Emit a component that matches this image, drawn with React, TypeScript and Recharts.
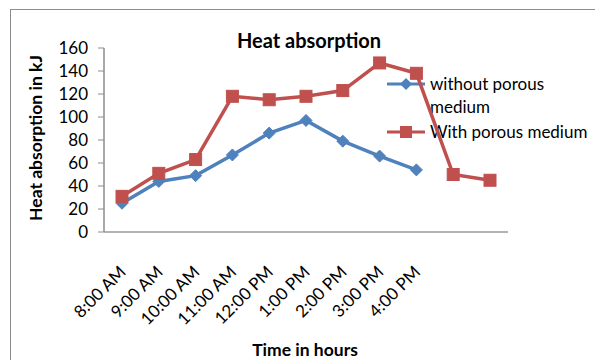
import React from "react";
import { LineChart, Line, XAxis, YAxis } from "recharts";

const categories = [
  "8:00 AM", "9:00 AM", "10:00 AM", "11:00 AM", "12:00 PM",
  "1:00 PM", "2:00 PM", "3:00 PM", "4:00 PM", "", " ",
];
const withoutPorous: (number | null)[] = [25, 44, 49, 67, 86, 97, 79, 66, 54, null, null];
const withPorous: number[] = [31, 51, 63, 118, 115, 118, 123, 147, 138, 50, 45];
const yTicks = [0, 20, 40, 60, 80, 100, 120, 140, 160];

const seriesNames = ["without porous", "medium", "With porous medium"];
const BLUE = "#4F81BD";
const RED = "#C0504D";
const FONT = "Lato, 'Open Sans', sans-serif";

const data = categories.map((c, i) => ({
  time: c,
  without: withoutPorous[i],
  with: withPorous[i],
}));

const Diamond = (props: any) => {
  const { cx, cy, value } = props;
  if (value == null || cx == null || cy == null) return null;
  const r = 6;
  return (
    <polygon
      points={`${cx},${cy - r} ${cx + r},${cy} ${cx},${cy + r} ${cx - r},${cy}`}
      fill={BLUE}
      stroke={BLUE}
      strokeWidth={1}
    />
  );
};

const Square = (props: any) => {
  const { cx, cy, value } = props;
  if (value == null || cx == null || cy == null) return null;
  const s = 12;
  return <rect x={cx - s / 2} y={cy - s / 2} width={s} height={s} fill={RED} stroke={RED} />;
};

const XTick = (props: any) => {
  const { x, y, payload } = props;
  return (
    <text
      transform={`translate(${x + 5},${y + 33}) rotate(-45)`}
      textAnchor="end"
      fontFamily={FONT}
      fontSize={17}
      fill="#000"
    >
      {payload.value}
    </text>
  );
};

export default function App() {
  return (
    <div
      style={{
        position: "absolute",
        left: 0,
        top: 0,
        width: 595,
        height: 360,
        overflow: "hidden",
        background: "#fff",
      }}
    >
      <div
        style={{
          position: "absolute",
          left: 10,
          top: 9,
          width: 640,
          height: 420,
          border: "1.5px solid #8c8c8c",
        }}
      />
      <div style={{ position: "absolute", left: 0, top: 0 }}>
        <LineChart
          width={595}
          height={360}
          data={data}
          margin={{ top: 48, right: 87, bottom: 0, left: 0 }}
        >
          <text
            x={309}
            y={48}
            textAnchor="middle"
            fontFamily={FONT}
            fontWeight="bold"
            fontSize={20}
            fill="#000"
          >
            Heat absorption
          </text>
          <text
            transform="translate(42,138) rotate(-90)"
            textAnchor="middle"
            fontFamily={FONT}
            fontWeight="bold"
            fontSize={17.5}
            fill="#000"
          >
            Heat absorption in kJ
          </text>
          <text
            x={305}
            y={356}
            textAnchor="middle"
            fontFamily={FONT}
            fontWeight="bold"
            fontSize={17.5}
            fill="#000"
          >
            Time in hours
          </text>
          <g transform="translate(387,76)">
            <line x1={0} y1={8} x2={38} y2={8} stroke={BLUE} strokeWidth={3} />
            <polygon points="19,2 25,8 19,14 13,8" fill={BLUE} />
            <text x={43} y={14} fontFamily={FONT} fontSize={17} fill="#000">{seriesNames[0]}</text>
            <text x={43} y={37} fontFamily={FONT} fontSize={17} fill="#000">{seriesNames[1]}</text>
            <line x1={0} y1={56} x2={38} y2={56} stroke={RED} strokeWidth={3} />
            <rect x={13} y={50} width={12} height={12} fill={RED} />
            <text x={43} y={62} fontFamily={FONT} fontSize={17} fill="#000">{seriesNames[2]}</text>
          </g>
          <XAxis
            dataKey="time"
            height={128}
            interval={0}
            padding={{ left: 18, right: 18 }}
            tickLine={false}
            axisLine={{ stroke: "#9a9a9a", strokeWidth: 1.5 }}
            tick={<XTick />}
          />
          <YAxis
            width={104}
            domain={[0, 160]}
            ticks={yTicks}
            interval={0}
            tickSize={6}
            tickMargin={10}
            tickLine={{ stroke: "#8c8c8c" }}
            axisLine={{ stroke: "#8c8c8c", strokeWidth: 1.5 }}
            tick={{ fontFamily: FONT, fontSize: 17, fill: "#000" }}
          />
          <Line
            name="without porous medium"
            dataKey="without"
            stroke={BLUE}
            strokeWidth={3.5}
            dot={<Diamond />}
            activeDot={false}
            isAnimationActive={false}
          />
          <Line
            name="With porous medium"
            dataKey="with"
            stroke={RED}
            strokeWidth={3.5}
            dot={<Square />}
            activeDot={false}
            isAnimationActive={false}
          />
        </LineChart>
      </div>
    </div>
  );
}
